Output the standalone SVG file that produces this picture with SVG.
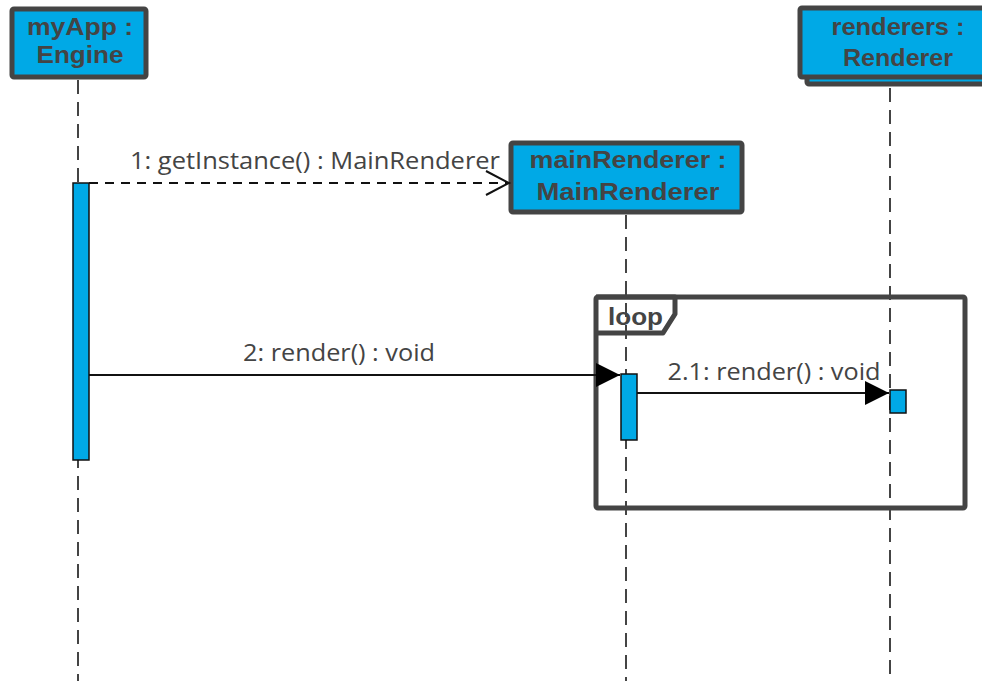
<svg xmlns="http://www.w3.org/2000/svg" width="982" height="681" viewBox="0 0 982 681">
  <style>
    .head { fill: #00a9e6; stroke: #444; stroke-width: 5; }
    .head-text { font-family: "Liberation Sans", Arial, sans-serif; font-weight: bold; font-size: 24px; fill: #444; text-anchor: middle; }
    .life { stroke: #444; stroke-width: 2; stroke-dasharray: 14 8; fill: none; }
    .act { fill: #00a9e6; stroke: #111; stroke-width: 1.5; }
    .msg { stroke: #111; stroke-width: 2; fill: none; }
    .msg-dash { stroke: #111; stroke-width: 2; fill: none; stroke-dasharray: 9 7; }
    .label { font-family: "Open Sans", "Liberation Sans", sans-serif; font-size: 24px; fill: #444; text-anchor: middle; }
    .frame { fill: none; stroke: #444; stroke-width: 5; stroke-linejoin: round; }
  </style>
  <defs>
    <marker id="open" markerWidth="28" markerHeight="28" refX="24" refY="13" orient="auto" markerUnits="userSpaceOnUse">
      <path d="M1,1 L24,13 L1,25" fill="none" stroke="#111" stroke-width="2"/>
    </marker>
    <marker id="filled" markerWidth="26" markerHeight="26" refX="24" refY="12" orient="auto" markerUnits="userSpaceOnUse">
      <path d="M0,0 L24,12 L0,24 Z" fill="#000"/>
    </marker>
  </defs>

  <!-- lifelines -->
  <g id="lifelines">
    <line class="life" x1="78" y1="80" x2="78" y2="681"/>
    <line class="life" x1="626" y1="215" x2="626" y2="681"/>
    <line class="life" x1="890" y1="88" x2="890" y2="681"/>
  </g>

  <!-- combined fragment -->
  <g id="loop">
    <rect class="frame" x="596" y="297" width="369" height="211" rx="2"/>
    <path class="frame" d="M596,297 L675,297 L675,314 L663,333 L596,333"/>
    <text x="608" y="325" font-family="'Liberation Sans',Arial,sans-serif" font-weight="bold" font-size="24px" fill="#444" textLength="55" lengthAdjust="spacingAndGlyphs">loop</text>
  </g>

  <g id="myApp">
    <rect class="head" x="12" y="9" width="134" height="68" rx="2"/>
    <text class="head-text" x="80" y="35" textLength="106" lengthAdjust="spacingAndGlyphs">myApp :</text>
    <text class="head-text" x="80" y="63" textLength="87" lengthAdjust="spacingAndGlyphs">Engine</text>
    <rect class="act" x="73" y="183" width="16" height="277"/>
  </g>

  <g id="renderers">
    <rect class="head" x="807" y="16" width="190" height="68" rx="2"/>
    <rect class="head" x="800" y="8" width="190" height="69" rx="2"/>
    <text class="head-text" x="898" y="35" textLength="133" lengthAdjust="spacingAndGlyphs">renderers :</text>
    <text class="head-text" x="898" y="66" textLength="110" lengthAdjust="spacingAndGlyphs">Renderer</text>
    <rect class="act" x="890" y="390" width="16" height="23"/>
  </g>

  <g id="mainRenderer">
    <rect class="head" x="511" y="143" width="231" height="69" rx="2"/>
    <text class="head-text" x="628" y="168" textLength="197" lengthAdjust="spacingAndGlyphs">mainRenderer :</text>
    <text class="head-text" x="628" y="200" textLength="183" lengthAdjust="spacingAndGlyphs">MainRenderer</text>
    <rect class="act" x="621" y="374" width="16" height="66"/>
  </g>

  <g id="connectors">
    <line class="msg-dash" x1="89" y1="183" x2="509" y2="183" marker-end="url(#open)"/>
    <text class="label" x="315" y="169" textLength="370" lengthAdjust="spacingAndGlyphs">1: getInstance() : MainRenderer</text>
    <line class="msg" x1="89" y1="375" x2="620" y2="375" marker-end="url(#filled)"/>
    <text class="label" x="339" y="361" textLength="192" lengthAdjust="spacingAndGlyphs">2: render() : void</text>
    <line class="msg" x1="637" y1="393" x2="889" y2="393" marker-end="url(#filled)"/>
    <text class="label" x="774" y="380" textLength="213" lengthAdjust="spacingAndGlyphs">2.1: render() : void</text>
  </g>
</svg>
